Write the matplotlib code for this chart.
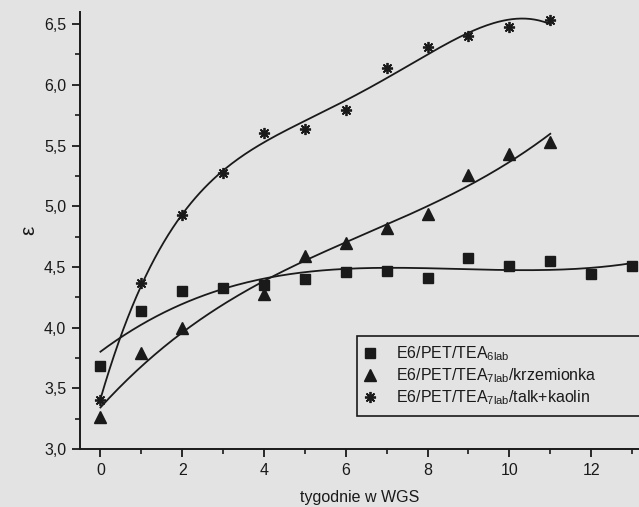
import numpy as np
import matplotlib.pyplot as plt
from matplotlib.ticker import MultipleLocator, FuncFormatter

plt.rcParams['font.family'] = ['Liberation Sans', 'DejaVu Sans']

tyg_a = [0, 1, 2, 3, 4, 5, 6, 7, 8, 9, 10, 11, 12, 13]
eps_a = [3.68, 4.14, 4.30, 4.33, 4.35, 4.40, 4.46, 4.47, 4.41, 4.57, 4.51, 4.55, 4.44, 4.51]
tyg_b = [0, 1, 2, 4, 5, 6, 7, 8, 9, 10, 11]
eps_b = [3.26, 3.79, 4.00, 4.28, 4.59, 4.70, 4.82, 4.94, 5.26, 5.43, 5.53]
tyg_c = [0, 1, 2, 3, 4, 5, 6, 7, 8, 9, 10, 11]
eps_c = [3.40, 4.37, 4.93, 5.27, 5.60, 5.64, 5.79, 6.14, 6.31, 6.40, 6.48, 6.53]
etykiety = [r'E6/PET/TEA$_{\mathregular{6lab}}$',
            r'E6/PET/TEA$_{\mathregular{7lab}}$/krzemionka',
            r'E6/PET/TEA$_{\mathregular{7lab}}$/talk+kaolin']

tlo = '#e3e3e3'
kol = '#1a1a1a'

fig = plt.figure(figsize=(6.39, 5.07), dpi=100, facecolor=tlo)
ax = fig.add_axes([80 / 639, 58 / 507, 1 - 80 / 639, (449 - 12) / 507], facecolor=tlo)

# linie dopasowania wielomianami
for tyg, eps, st in [(tyg_a, eps_a, 3), (tyg_b, eps_b, 3), (tyg_c, eps_c, 4)]:
    xx = np.linspace(min(tyg), max(tyg), 200)
    ax.plot(xx, np.polyval(np.polyfit(tyg, eps, st), xx), color=kol, lw=1.3)

ax.plot(tyg_a, eps_a, 's', color=kol, ms=7, ls='none', label=etykiety[0])
ax.plot(tyg_b, eps_b, '^', color=kol, ms=8, ls='none', label=etykiety[1])
ax.plot(tyg_c, eps_c, ls='none', marker=(8, 2, 0), color=kol, ms=8, mew=1.3,
        label=etykiety[2])

ax.set_xlim(-0.5, 13.17)
ax.set_ylim(3.0, 6.6)
ax.spines['top'].set_visible(False)
ax.spines['right'].set_visible(False)
for s in ['left', 'bottom']:
    ax.spines[s].set_linewidth(1.4)
    ax.spines[s].set_color(kol)

ax.xaxis.set_major_locator(MultipleLocator(2))
ax.xaxis.set_minor_locator(MultipleLocator(1))
ax.yaxis.set_major_locator(MultipleLocator(0.5))
ax.yaxis.set_minor_locator(MultipleLocator(0.25))
ax.yaxis.set_major_formatter(FuncFormatter(lambda v, p: f'{v:.1f}'.replace('.', ',')))
ax.tick_params(which='major', length=6, width=1.3, color=kol, labelsize=11.5,
               labelcolor=kol, pad=4)
ax.tick_params(which='minor', length=3.5, width=1.2, color=kol)

ax.set_xlabel('tygodnie w WGS', fontsize=11.5, color=kol, labelpad=9)
ax.set_ylabel('ε', fontsize=15, color=kol, labelpad=4)

leg = ax.legend(loc='upper left', mode='expand',
                bbox_to_anchor=(357 / 639, 1 - 414 / 507, 320 / 639, 78 / 507),
                bbox_transform=fig.transFigure, fontsize=11.5, frameon=True,
                fancybox=False, edgecolor=kol, facecolor=tlo, framealpha=1,
                handlelength=0.5, handletextpad=1.4, labelspacing=0.2,
                borderpad=0.55, borderaxespad=0)
leg.get_frame().set_linewidth(1.2)
for t in leg.get_texts():
    t.set_color(kol)

fig.savefig('out.png', dpi=100, facecolor=tlo)
